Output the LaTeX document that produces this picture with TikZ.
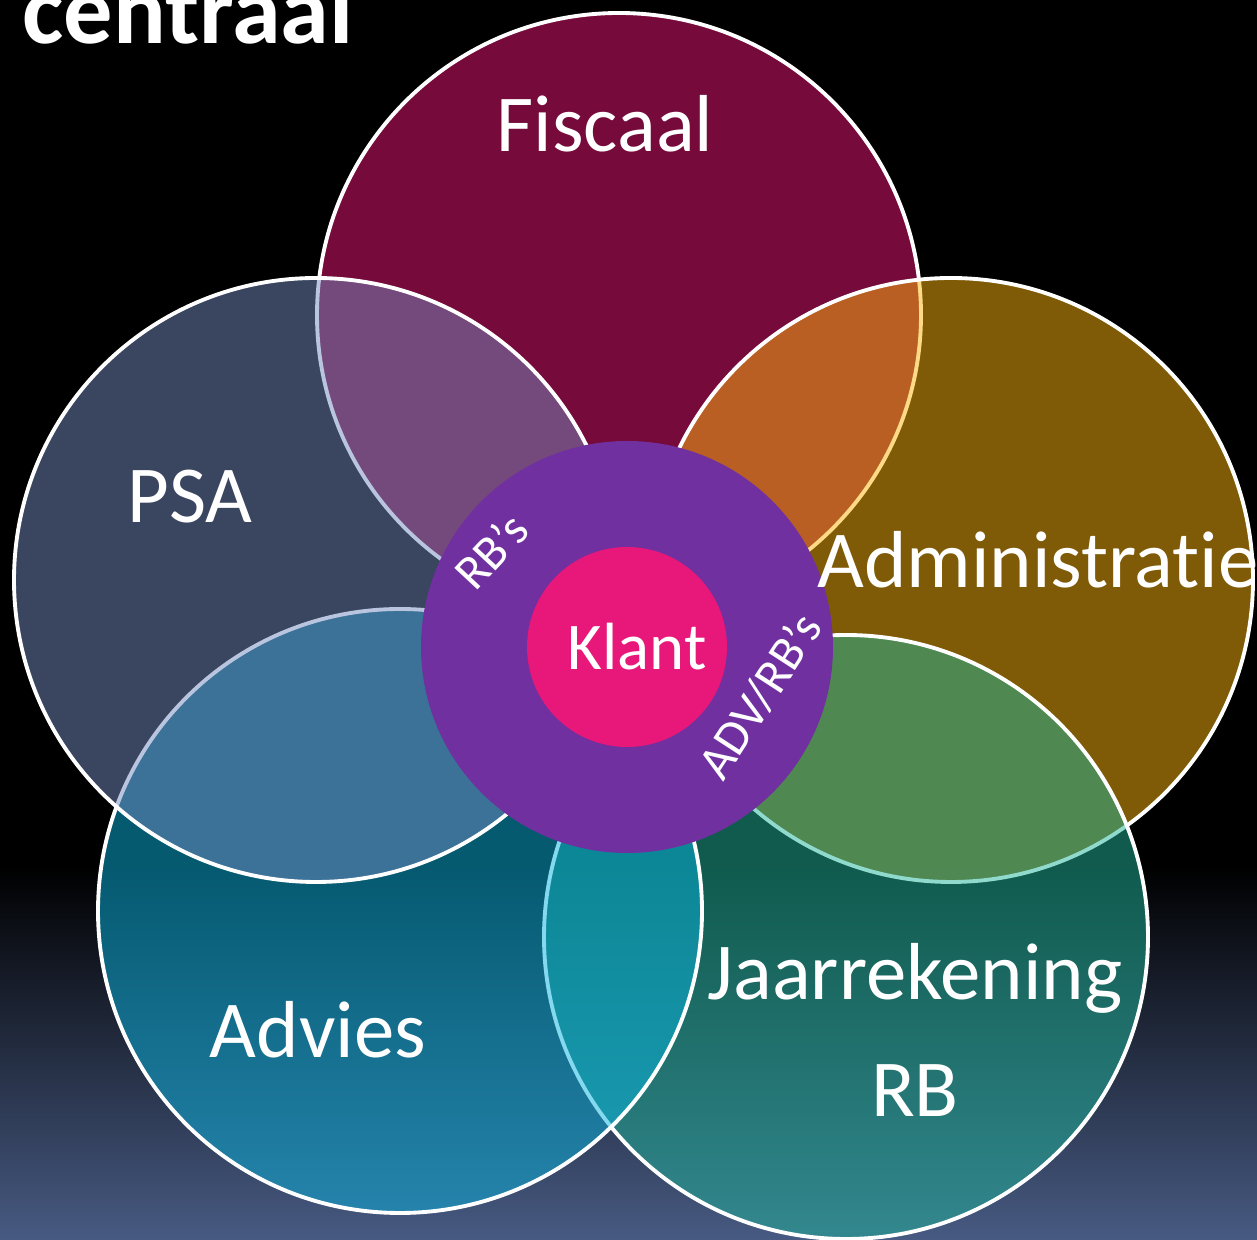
\documentclass[tikz,border=0pt]{standalone}
\usepackage{fontspec}
\setmainfont[Ligatures=NoCommon]{Carlito}
\usetikzlibrary{positioning}

\definecolor{fiscaalc}{RGB}{236,20,118}
\definecolor{adminc}{RGB}{254,180,14}
\definecolor{jaarc}{RGB}{32,182,156}
\definecolor{adviesc}{RGB}{10,180,224}
\definecolor{psac}{RGB}{116,138,192}
\definecolor{ringc}{RGB}{112,48,160}
\definecolor{klantc}{RGB}{232,23,122}
\definecolor{bgblue}{RGB}{71,90,130}

\tikzset{
  venn/.style={circle, draw=white, line width=1.1pt, fill opacity=0.5,
    minimum size=6.04cm, inner sep=0pt},
  lbl/.style={text=white, anchor=base, inner sep=0pt,
    font=\fontsize{23pt}{27pt}\selectfont},
  ringlbl/.style={text=white, inner sep=0pt,
    font=\fontsize{14pt}{16pt}\selectfont}
}

\begin{document}
\begin{tikzpicture}[x=0.1mm,y=0.1mm]
  \useasboundingbox (0,0) rectangle (1257,1240);

  % background
  \fill [black] (0,0) rectangle (1257,1240);
  \shade [top color=black, bottom color=bgblue] (0,0) rectangle (1257,375);

  % the five fields, in drawing order
  \node [venn, fill=fiscaalc] (fiscaal) at (619,925) {};
  \node [venn, fill=adminc] (admin) at (951,660) {};
  \node [venn, fill=jaarc] (jaar) at (846,303) {};
  \node [venn, fill=adviesc] (advies) at (400,329) {};
  \node [venn, fill=psac] (psa) at (316,660) {};

  % centre
  \node [circle, fill=ringc, minimum size=4.12cm, inner sep=0pt] (ring) at (627,593) {};
  \node [circle, fill=klantc, minimum size=2cm, inner sep=0pt] (klant) at (ring.center) {};

  \node [lbl] (fiscaaltxt) at (605,1088) {Fiscaal};
  \node [lbl] (psatxt) at (190,717) {PSA};
  \node [lbl] (admintxt) at (1038,652) {Administratie};
  \node [lbl] (adviestxt) at (318,182) {Advies};
  \node [lbl] (jaartxt) at (915,240) {Jaarrekening};
  \node [lbl] (rbtxt) at (915,123) {RB};
  \node [lbl, font=\fontsize{19pt}{22pt}\selectfont] (klanttxt) at (637,570) {Klant};

  \node [ringlbl, rotate=47] (rbs) at (491,689) {RB's};
  \node [ringlbl, rotate=57] (advrbs) at (760,544) {ADV/RB's};

  % title, cut off at the top
  \node [text=white, anchor=base west, inner sep=0pt,
    font=\bfseries\fontsize{28pt}{32pt}\selectfont] (title) at (22,1196) {centraal};
\end{tikzpicture}
\end{document}
